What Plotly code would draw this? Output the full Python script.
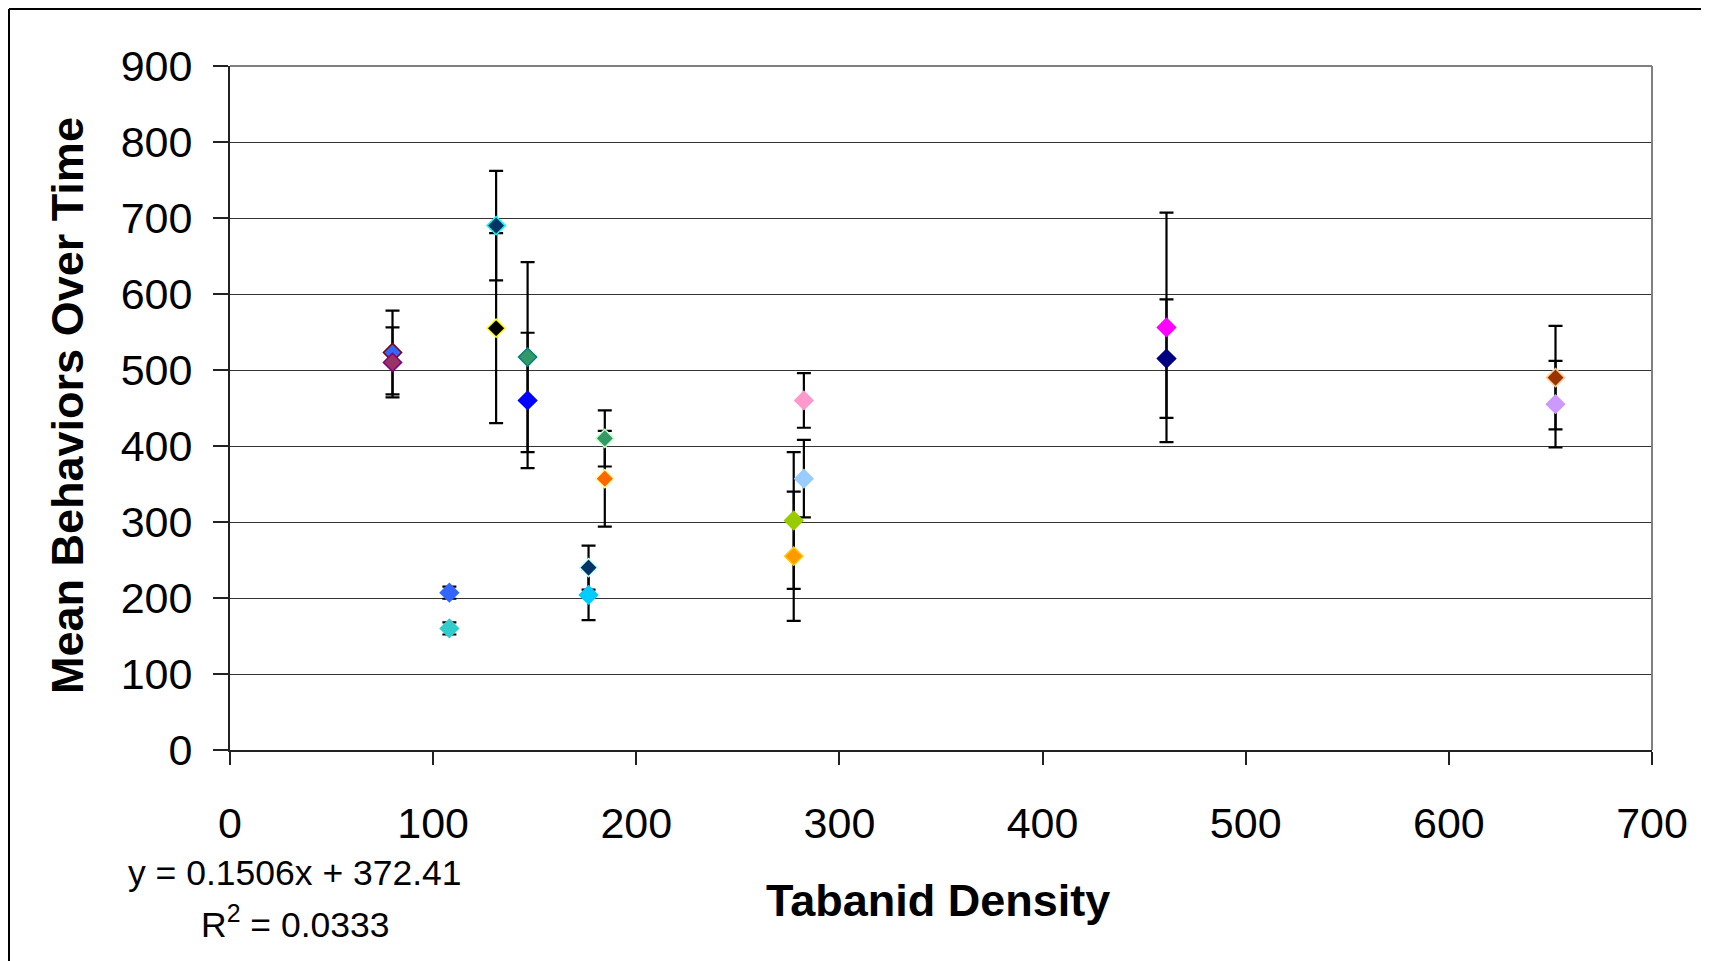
import plotly.graph_objects as go

# Data
density = [80, 80, 108, 108, 131, 131, 146.5, 146.5, 176.5, 176.5,
           184.5, 184.5, 277.5, 277.5, 282.5, 282.5, 461, 461, 652.5, 652.5]
behaviors = [523, 510, 207, 160, 690, 555, 517, 460, 240, 204,
             410, 357, 302, 255, 460, 357, 556, 515, 490, 455]
errors = [55, 46, 8, 8, 72, 125, 125, 89, 29, 33,
          37, 63, 90, 85, 36, 51, 151, 78, 68, 57]
fill_colors = ["#3366FF", "#993366", "#3366FF", "#33CCCC", "#003366", "#000000",
               "#339966", "#0000FF", "#003366", "#00CCFF", "#339966", "#FF6600",
               "#99CC00", "#FF9900", "#FF99CC", "#99CCFF", "#FF00FF", "#000080",
               "#993300", "#CC99FF"]
edge_colors = ["#800000", "#800080", "#3366FF", "#33CCCC", "#00FFFF", "#FFFF00",
               "#008080", "#0000FF", "#CCFFFF", "#00CCFF", "#CCFFCC", "#FFFF99",
               "#99CC00", "#FFCC00", "#FF99CC", "#99CCFF", "#FF00FF", "#000080",
               "#FFCC99", "#CC99FF"]
x_ticks = [0, 100, 200, 300, 400, 500, 600, 700]
y_ticks = [0, 100, 200, 300, 400, 500, 600, 700, 800, 900]

# page has an 8px body margin, so figure coords = page coords - 8
OFF = 8
W, H = 1701, 953
L, T = 230 - OFF, 66 - OFF
R = W - (1652 - OFF)
B = H - (750 - OFF)
pw, ph = W - L - R, H - T - B


def px_x(p):
    return (p - OFF - L) / pw


def px_y(p):
    return (H - B - (p - OFF)) / ph


FONT = "Liberation Sans, Arial, sans-serif"

fig = go.Figure()
fig.add_trace(go.Scatter(
    x=density, y=behaviors, mode="markers",
    marker=dict(symbol="diamond", size=14, color=fill_colors,
                line=dict(color=edge_colors, width=1.5)),
    error_y=dict(type="data", array=errors, visible=True,
                 color="#000000", thickness=2.2, width=7),
    showlegend=False,
))

fig.update_layout(
    width=W, height=H,
    margin=dict(l=L, r=R, t=T, b=B),
    paper_bgcolor="white", plot_bgcolor="white",
    font=dict(family=FONT, color="black"),
    xaxis=dict(range=[0, 700], tickvals=x_ticks, ticktext=[str(v) for v in x_ticks],
               showgrid=False, zeroline=False, showline=True,
               linecolor="#222222", linewidth=2,
               ticks="outside", ticklen=13, tickwidth=1.5, tickcolor="#222222",
               tickfont=dict(size=43, family=FONT), ticklabelstandoff=21),
    yaxis=dict(range=[0, 900], tickvals=y_ticks, ticktext=[str(v) for v in y_ticks],
               showgrid=True, gridcolor="#333333", gridwidth=1,
               zeroline=False, showline=True,
               linecolor="#222222", linewidth=2,
               ticks="outside", ticklen=15, tickwidth=1.5, tickcolor="#222222",
               tickfont=dict(size=43, family=FONT), ticklabelstandoff=12),
    shapes=[
        dict(type="line", xref="paper", yref="paper", x0=0, x1=1, y0=1, y1=1,
             line=dict(color="#808080", width=2)),
        dict(type="line", xref="paper", yref="paper", x0=1, x1=1, y0=0, y1=1,
             line=dict(color="#808080", width=2)),
        dict(type="line", xref="paper", yref="paper", x0=px_x(9), x1=px_x(9),
             y0=px_y(9), y1=px_y(1000), line=dict(color="black", width=2)),
        dict(type="line", xref="paper", yref="paper", x0=px_x(9), x1=px_x(1750),
             y0=px_y(9), y1=px_y(9), line=dict(color="black", width=2)),
    ],
    annotations=[
        dict(text="<b>Tabanid Density</b>", xref="paper", yref="paper",
             x=px_x(938), y=px_y(900), xanchor="center", yanchor="middle",
             showarrow=False, font=dict(size=45, family=FONT)),
        dict(text="<b>Mean Behaviors Over Time</b>", xref="paper", yref="paper",
             x=px_x(67), y=px_y(406), xanchor="center", yanchor="middle",
             textangle=-90, showarrow=False, font=dict(size=45, family=FONT)),
        dict(text="y = 0.1506x + 372.41", xref="paper", yref="paper",
             x=px_x(295), y=px_y(873), xanchor="center", yanchor="middle",
             showarrow=False, font=dict(size=35.5, family=FONT)),
        dict(text="R<sup>2</sup> = 0.0333", xref="paper", yref="paper",
             x=px_x(295), y=px_y(922), xanchor="center", yanchor="middle",
             showarrow=False, font=dict(size=35.5, family=FONT)),
    ],
)

fig.write_html("out.html")
